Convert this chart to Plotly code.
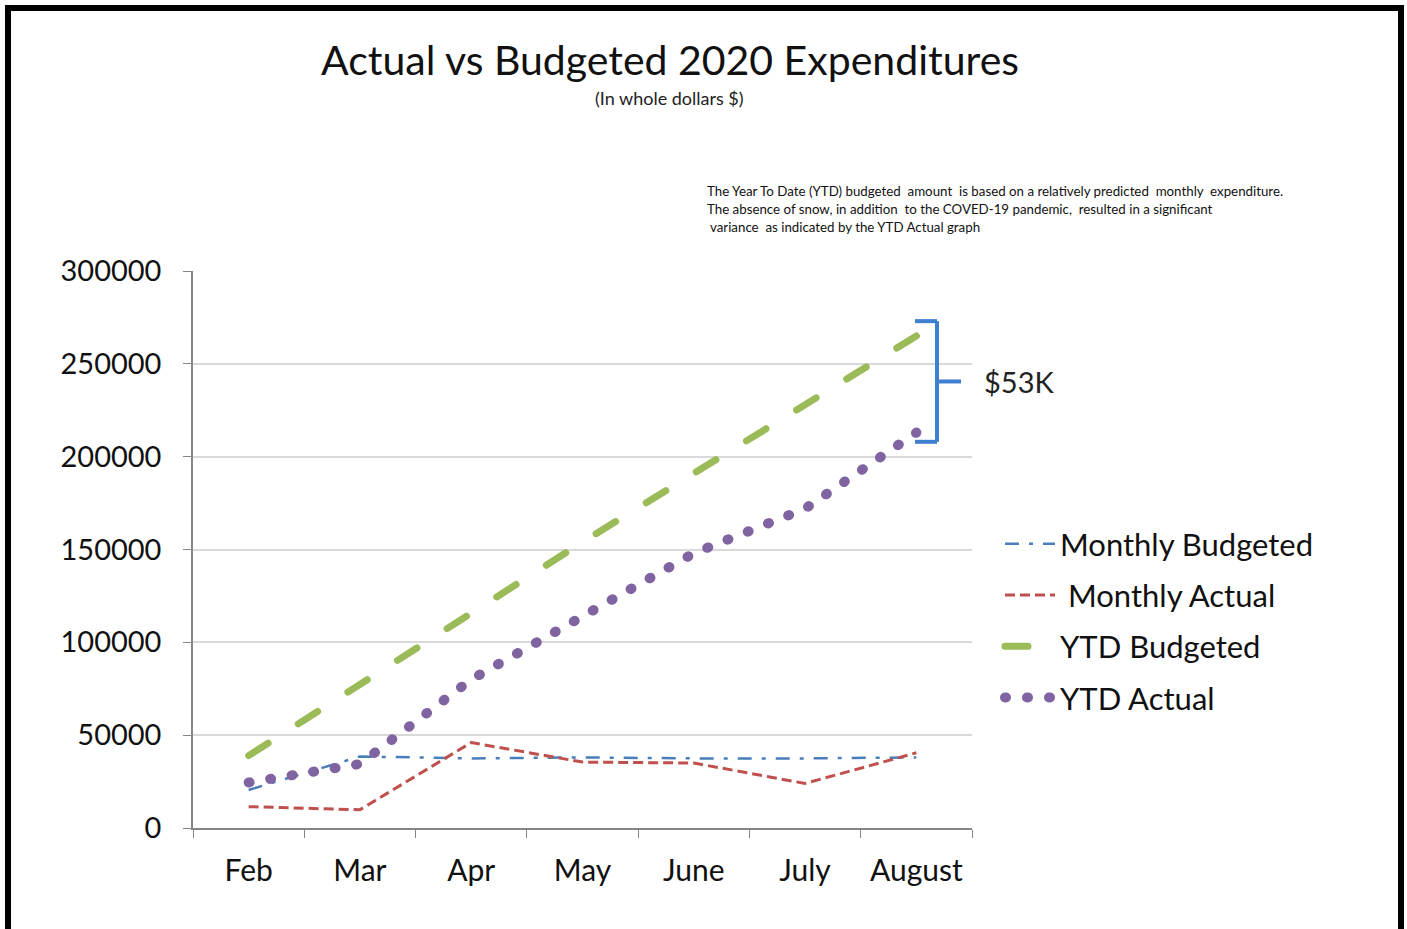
import plotly.graph_objects as go

months = ["Feb", "Mar", "Apr", "May", "June", "July", "August"]
monthly_budgeted = [20500, 38500, 37500, 38000, 37500, 37500, 38000]
monthly_actual = [11500, 9800, 46000, 35500, 35000, 24000, 40500]
ytd_budgeted = [39000, 77500, 116000, 154000, 191000, 228000, 265000]
ytd_actual = [24500, 34500, 80000, 114000, 148000, 172000, 213000]
y_ticks = [0, 50000, 100000, 150000, 200000, 250000, 300000]

FONT = "Lato"
W, H = 1407, 929
L, R, T, B = 193, 972, 271, 828


def px_x(p):
    return (p - L) / (R - L)


def px_y(p):
    return (B - p) / (B - T)


fig = go.Figure()
fig.add_trace(go.Scatter(x=months, y=monthly_budgeted, mode="lines", name="Monthly Budgeted",
                         legendgroup="a", line=dict(color="#4a7ebb", width=2.5, dash="14px,10px,4px,10px")))
fig.add_trace(go.Scatter(x=months, y=monthly_actual, mode="lines", name=" Monthly Actual",
                         legendgroup="b", line=dict(color="#c0504d", width=3, dash="10px,5px")))
fig.add_trace(go.Scatter(x=months, y=ytd_budgeted, mode="lines", name="YTD Budgeted",
                         legendgroup="c", line=dict(color="#9bbb59", width=7, dash="23px,34px")))
fig.add_trace(go.Scatter(x=months, y=ytd_actual, mode="lines", name="YTD Actual",
                         legendgroup="d", line=dict(color="#8064a2", width=10, dash="1px,21px")))

# bracket
top_v, bot_v = 273000, 208000
mid_v = (top_v + bot_v) / 2
bx0, bx1, bx2 = px_x(915), px_x(937), px_x(961)
bc = "#3f7fcf"
fig.add_shape(type="line", xref="paper", yref="y", x0=bx0, x1=bx1, y0=top_v, y1=top_v, line=dict(color=bc, width=4))
fig.add_shape(type="line", xref="paper", yref="y", x0=bx1, x1=bx1, y0=top_v, y1=bot_v, line=dict(color=bc, width=4))
fig.add_shape(type="line", xref="paper", yref="y", x0=bx0, x1=bx1, y0=bot_v, y1=bot_v, line=dict(color=bc, width=4))
fig.add_shape(type="line", xref="paper", yref="y", x0=bx1, x1=bx2, y0=mid_v, y1=mid_v, line=dict(color=bc, width=4))
fig.add_annotation(xref="paper", yref="y", x=px_x(982), y=mid_v, text="$53K", showarrow=False,
                   xanchor="left", yanchor="middle", font=dict(family=FONT, size=29, color="#222"))

# frame
fig.add_shape(type="rect", xref="paper", yref="paper", x0=px_x(8), x1=px_x(1401), y0=px_y(8), y1=px_y(1000),
              line=dict(color="black", width=6), layer="above")

# titles
fig.add_annotation(xref="paper", yref="paper", x=px_x(670), y=px_y(60), text="Actual vs Budgeted 2020 Expenditures",
                   showarrow=False, xanchor="center", yanchor="middle", font=dict(family=FONT, size=41, color="#111"))
fig.add_annotation(xref="paper", yref="paper", x=px_x(669), y=px_y(98), text="(In whole dollars $)",
                   showarrow=False, xanchor="center", yanchor="middle", font=dict(family=FONT, size=18, color="#222"))
notes = [
    (705, 191, "The Year To Date (YTD) budgeted  amount  is based on a relatively predicted  monthly  expenditure."),
    (705, 209, "The absence of snow, in addition  to the COVED-19 pandemic,  resulted in a significant"),
    (708, 227, "variance  as indicated by the YTD Actual graph"),
]
for xx, yy, t in notes:
    fig.add_annotation(xref="paper", yref="paper", x=px_x(xx), y=px_y(yy), text=t, showarrow=False,
                       xanchor="left", yanchor="middle", font=dict(family=FONT, size=13.3, color="#111"))

fig.update_layout(
    width=W, height=H,
    margin=dict(l=L, r=W - R, t=T, b=H - B, pad=0),
    paper_bgcolor="white", plot_bgcolor="white",
    font=dict(family=FONT, color="#111"),
    showlegend=True,
    legend=dict(x=px_x(1000), y=px_y(517), xanchor="left", yanchor="top", itemwidth=50,
                font=dict(family=FONT, size=31, color="#111"), tracegroupgap=8,
                traceorder="grouped", bgcolor="rgba(0,0,0,0)"),
)
fig.update_xaxes(type="category", range=[-0.5, 6.5], showline=True, linecolor="#868686", linewidth=1.5,
                 ticks="outside", tickson="boundaries", ticklen=8, tickcolor="#868686",
                 tickfont=dict(family=FONT, size=30, color="#111"), ticklabelstandoff=15, showgrid=False)
fig.update_yaxes(range=[0, 300000], tickvals=y_ticks, ticktext=[str(v) for v in y_ticks],
                 showline=True, linecolor="#868686", linewidth=1.5, ticks="outside", ticklen=8,
                 tickcolor="#868686", showgrid=True, gridcolor="#d9d9d9", gridwidth=1.5, zeroline=False,
                 tickfont=dict(family=FONT, size=29, color="#111"), ticklabelstandoff=16)

post = """
document.body.style.margin = '0';
document.body.style.overflow = 'hidden';
var gd = document.getElementById('{plot_id}');
function roundCaps(nodes, idx){
  idx.forEach(function(i){
    if (nodes.length > i) { nodes[i].querySelectorAll('path.js-line').forEach(function(p){ p.style.strokeLinecap='round'; }); }
  });
}
function fitDots(){
  var tr = gd.querySelectorAll('.scatterlayer .trace');
  if (tr.length > 3) {
    tr[3].querySelectorAll('path.js-line').forEach(function(p){
      try {
        var len = p.getTotalLength();
        var n = Math.max(1, Math.round(len / 22));
        var per = (len - 0.5) / n;
        p.style.strokeDasharray = '1px,' + (per - 1).toFixed(3) + 'px';
      } catch (e) {}
    });
  }
  if (tr.length > 2) {
    tr[2].querySelectorAll('path.js-line').forEach(function(p){
      try {
        var len = p.getTotalLength();
        var n = Math.max(1, Math.round((len - 23) / 57));
        var per = (len - 23) / n;
        p.style.strokeDasharray = '23px,' + (per - 23).toFixed(3) + 'px';
      } catch (e) {}
    });
  }
}
function fixDots(){
  roundCaps(gd.querySelectorAll('.scatterlayer .trace'), [2, 3]);
  roundCaps(gd.querySelectorAll('.legend .traces'), [2, 3]);
  fitDots();
}
fixDots();
gd.on('plotly_afterplot', fixDots);
"""
fig.write_html("out.html", post_script=post, config={"displayModeBar": False})
